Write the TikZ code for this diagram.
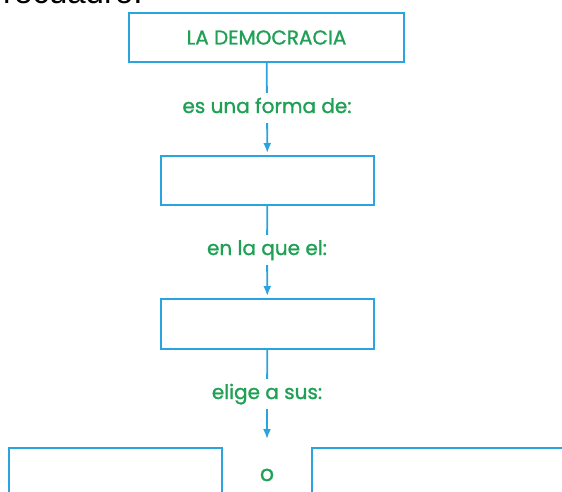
\documentclass[tikz,border=0pt]{standalone}
\usepackage{fontspec}
\setmainfont[FakeBold=1.2]{Poppins}
\newfontfamily\headfont{Liberation Sans}
\usetikzlibrary{positioning,arrows.meta}
\definecolor{boxblue}{RGB}{42,164,223}
\definecolor{textgreen}{RGB}{31,160,85}

\begin{document}
\begin{tikzpicture}[x=1pt,y=-1pt,
	box/.style={draw=boxblue,line width=2pt,rectangle,inner sep=0pt},
	lbl/.style={text=textgreen,font=\fontsize{20}{22}\selectfont,anchor=base,
		text height=14pt,text depth=4pt,inner ysep=6pt},
	link/.style={draw=boxblue,line width=1.8pt},
	arr/.style={link,-{Latex[length=10pt,width=8pt]},shorten >=2pt}]
\useasboundingbox (0,0) rectangle (562,491);
\clip (0,0) rectangle (562,491);
% heading cut by the page edge
\node[anchor=base west,inner sep=0pt,font=\headfont\fontsize{33}{36}\selectfont] (head) at (3,3) {recuadro:};
% boxes
\node[box,minimum width=275pt,minimum height=49pt,text=textgreen,font=\fontsize{20}{22}\selectfont] (demo) at (266.5,37.5) {LA DEMOCRACIA};
\node[box,minimum width=213pt,minimum height=49pt] (forma) at (267.5,180.5) {};
\node[box,minimum width=213pt,minimum height=50pt] (quien) at (267.5,324) {};
\node[box,minimum width=213pt,minimum height=72pt] (left) at (115.5,484) {};
\node[box,minimum width=288pt,minimum height=72pt] (right) at (456,484) {};
% labels
\node[lbl] (es) at (267,113) {es una forma de:};
\node[lbl] (en) at (267,255) {en la que el:};
\node[lbl] (elige) at (267,399) {elige a sus:};
\node[lbl,font=\fontsize{22}{24}\selectfont] (o) at (267,481) {o};
\coordinate (tip) at (267,441);
% connectors
\draw[link] (demo) -- (es);
\draw[arr] (es) -- (forma);
\draw[link] (forma) -- (en);
\draw[arr] (en) -- (quien);
\draw[link] (quien) -- (elige);
\draw[arr] (elige) -- (tip);
\end{tikzpicture}
\end{document}
